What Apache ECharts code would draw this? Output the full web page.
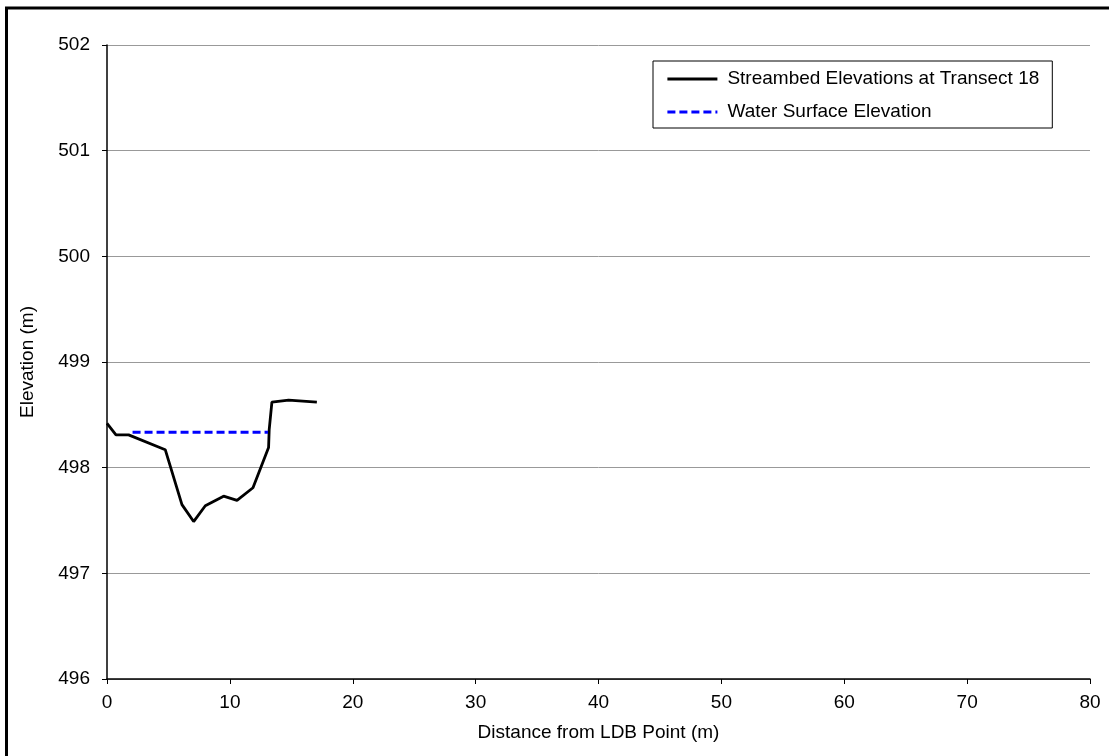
<!DOCTYPE html>
<html>
<head>
<meta charset="utf-8">
<script src="https://cdn.jsdelivr.net/npm/echarts@6/dist/echarts.min.js"></script>
<style>
html,body{margin:0;padding:0;background:#fff;}
#c{width:1109px;height:756px;}
</style>
</head>
<body>
<div id="c"></div>
<script>
var streamX = [0, 0.73, 1.76, 4.74, 6.10, 7.05, 8.0, 9.49, 10.58, 11.88, 13.15, 13.2, 13.42, 14.78, 17.08];
var streamY = [498.42, 498.31, 498.31, 498.17, 497.65, 497.49, 497.64, 497.73, 497.69, 497.81, 498.19, 498.36, 498.62, 498.64, 498.62];
var waterX = [2.08, 13.1];
var waterY = [498.335, 498.335];
var seriesNames = ['Streambed Elevations at Transect 18', 'Water Surface Elevation'];

function pairs(xs, ys) { return xs.map(function (x, i) { return [x, ys[i]]; }); }

var chart = echarts.init(document.getElementById('c'), null, { renderer: 'canvas' });
var font = 'Liberation Sans, Arial, sans-serif';
var fs = 19;
chart.setOption({
  animation: false,
  backgroundColor: '#fff',
  textStyle: { fontFamily: font },
  grid: { left: 107, right: 19, top: 45, bottom: 77, containLabel: false },
  graphic: [{
    type: 'rect', z: 100, silent: true,
    shape: { x: 6.5, y: 8, width: 1300, height: 900 },
    style: { fill: 'none', stroke: '#000', lineWidth: 3 }
  }],
  legend: {
    left: 653, top: 61,
    orient: 'vertical',
    data: seriesNames,
    backgroundColor: '#fff',
    borderColor: '#000', borderWidth: 1,
    padding: [7, 13, 5, 13],
    itemWidth: 50, itemHeight: 14, itemGap: 11,
    itemStyle: { opacity: 0 },
    lineStyle: { width: 2.8 },
    textStyle: { fontFamily: font, fontSize: fs, lineHeight: 22, color: '#000', padding: [0, 0, 0, 5] }
  },
  xAxis: {
    type: 'value', min: 0, max: 80, interval: 10,
    name: 'Distance from LDB Point (m)', nameLocation: 'middle', nameGap: 44,
    nameTextStyle: { fontFamily: font, fontSize: fs, color: '#000' },
    axisLine: { show: true, onZero: false, lineStyle: { color: '#000', width: 1.5 } },
    axisTick: { show: true, inside: false, length: 5, lineStyle: { color: '#000' } },
    axisLabel: { fontFamily: font, fontSize: fs, color: '#000', margin: 14 },
    splitLine: { show: false }
  },
  yAxis: {
    type: 'value', min: 496, max: 502, interval: 1,
    name: 'Elevation (m)', nameLocation: 'middle', nameGap: 70,
    nameTextStyle: { fontFamily: font, fontSize: fs, color: '#000' },
    axisLine: { show: true, onZero: false, lineStyle: { color: '#000', width: 1.5 } },
    axisTick: { show: true, inside: false, length: 5, lineStyle: { color: '#000' } },
    axisLabel: { fontFamily: font, fontSize: fs, color: '#000', margin: 17 },
    splitLine: { show: true, lineStyle: { color: '#999', width: 1 } }
  },
  series: [{
    name: seriesNames[0], type: 'line', data: pairs(streamX, streamY),
    symbol: 'none', showSymbol: false,
    lineStyle: { color: '#000', width: 2.8 }, itemStyle: { color: '#000' }
  }, {
    name: seriesNames[1], type: 'line', data: pairs(waterX, waterY),
    symbol: 'none', showSymbol: false,
    lineStyle: { color: '#0000ff', width: 2.8, type: [8, 4] }, itemStyle: { color: '#0000ff' }
  }]
});
</script>
</body>
</html>
